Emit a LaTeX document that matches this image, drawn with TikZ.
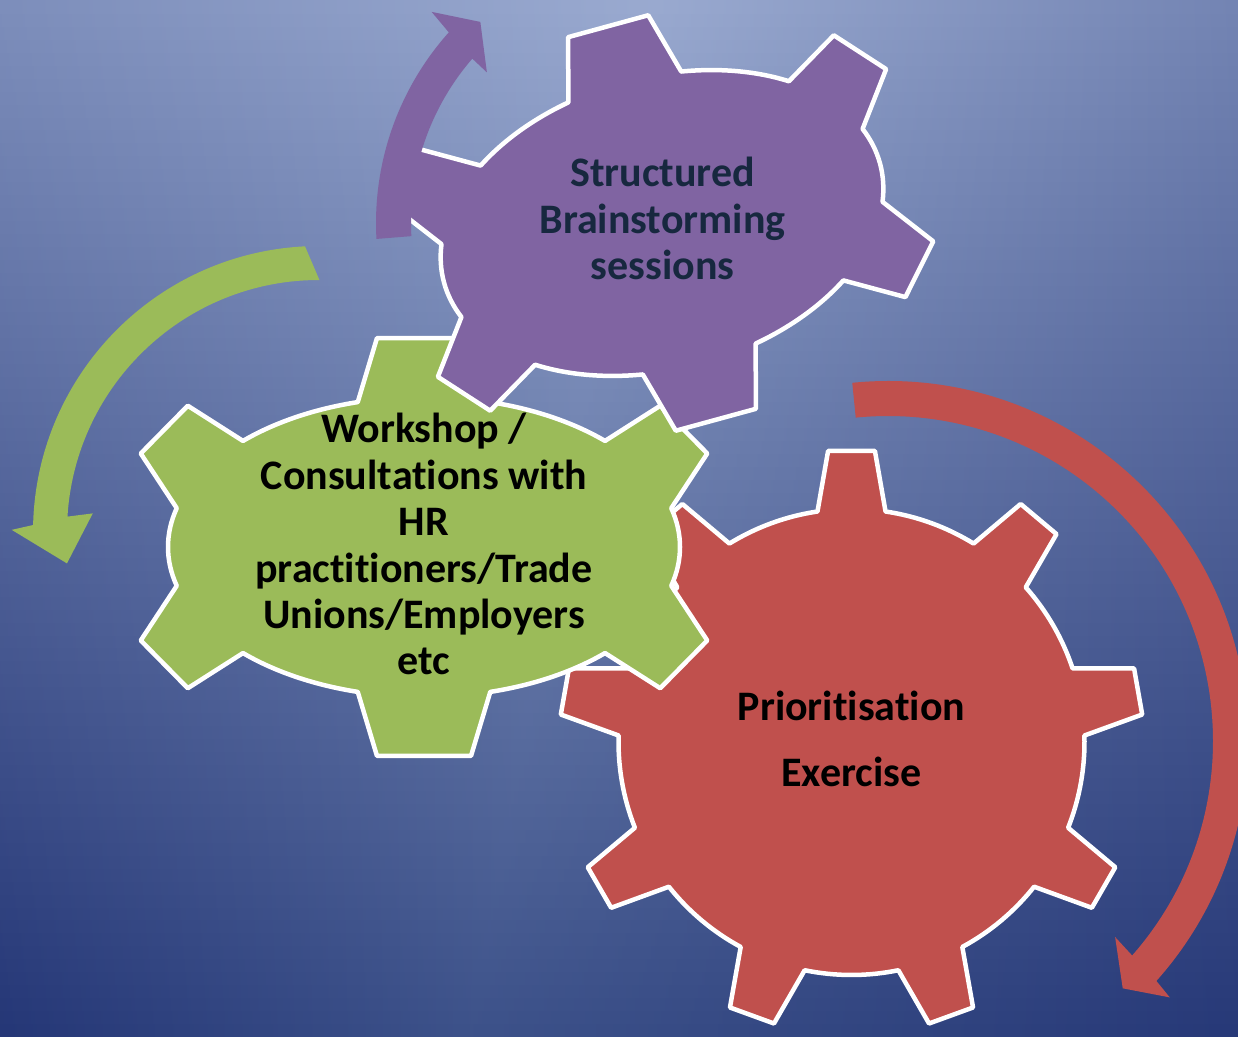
\documentclass[tikz,border=0pt]{standalone}
\usepackage{fontspec}
\setmainfont{Carlito}[Ligatures={NoCommon,NoContextual}]
\definecolor{gPurple}{HTML}{8064A2}
\definecolor{gGreen}{HTML}{9BBB59}
\definecolor{gRed}{HTML}{C0504D}
\definecolor{bgTL}{HTML}{7D8EBB}
\definecolor{bgTC}{HTML}{9AAAD0}
\definecolor{bgTR}{HTML}{7384B3}
\definecolor{bgBL}{HTML}{243676}
\definecolor{bgBC}{HTML}{3C5189}
\definecolor{bgBR}{HTML}{263877}
\definecolor{txtNavy}{HTML}{17283F}
\tikzset{
  gearline/.style={draw=white, line width=4.5pt, line join=round},
  gtext/.style={font=\bfseries\fontsize{42}{46.7}\selectfont, inner sep=0pt, anchor=base},
}
% six-tooth gear on an elliptical body: #1 prefix, #2 x radius, #3 y radius, #4 tooth height, #5 fill
\newcommand\GearSix[5]{%
  \foreach \t [count=\k] in {90,150,210,270,330,390} {
    \pgfmathsetmacro\gAx{#2*cos(\t-15)}
    \pgfmathsetmacro\gAy{#3*sin(\t-15)}
    \pgfmathsetmacro\gBx{#2*cos(\t+15)}
    \pgfmathsetmacro\gBy{#3*sin(\t+15)}
    \pgfmathsetmacro\gMx{(\gAx+\gBx)/2}
    \pgfmathsetmacro\gMy{(\gAy+\gBy)/2}
    \pgfmathsetmacro\gNx{cos(\t)*#3/100}
    \pgfmathsetmacro\gNy{sin(\t)*#2/100}
    \pgfmathsetmacro\gNl{sqrt(\gNx*\gNx+\gNy*\gNy)}
    \pgfmathsetmacro\gOx{\gMx+#4*\gNx/\gNl}
    \pgfmathsetmacro\gOy{\gMy+#4*\gNy/\gNl}
    \coordinate (#1\k a) at (\gAx,\gAy);
    \coordinate (#1\k b) at (\gBx,\gBy);
    \coordinate (#1\k c) at ({\gOx+0.71*(\gAx-\gMx)},{\gOy+0.71*(\gAy-\gMy)});
    \coordinate (#1\k d) at ({\gOx+0.71*(\gBx-\gMx)},{\gOy+0.71*(\gBy-\gMy)});
  }
  \draw[gearline, fill=#5] (#11a)
    \foreach \k/\t in {1/90,2/150,3/210,4/270,5/330,6/390} {
      -- (#1\k c) -- (#1\k d) -- (#1\k b)
      arc[start angle=\t+15, end angle=\t+45, x radius=#2, y radius=#3]
    } -- cycle;
}
\begin{document}
\begin{tikzpicture}[x=1pt,y=1pt]
\useasboundingbox (0,0) rectangle (1238,1036);
\clip (0,0) rectangle (1238,1036);
% background: vertical blend, lightest column drifting from x=470 (bottom) to x=650 (top)
\foreach \i in {0,...,79} {
  \pgfmathsetmacro\yA{\i*12.95-0.5}
  \pgfmathsetmacro\yB{\yA+14}
  \pgfmathsetmacro\pc{(\i+0.5)/0.8}
  \pgfmathsetmacro\xm{470+180*(\i+0.5)/80}
  \shade[left color=bgTL!\pc!bgBL, right color=bgTC!\pc!bgBC] (-2,\yA) rectangle (\xm,\yB);
  \shade[left color=bgTC!\pc!bgBC, right color=bgTR!\pc!bgBR] (\xm-0.5,\yA) rectangle (1240,\yB);
}

% red nine-tooth gear
\begin{scope}[shift={(851.5,294)}]
\draw[gearline, fill=gRed] (81.6:233)
  \foreach \t in {90,130,...,410} {
    -- ({\t-4.6}:292) -- ({\t+4.6}:292) -- ({\t+8.4}:233)
    arc[start angle=\t+8.4, end angle=\t+31.6, radius=233]
  } -- cycle;
\end{scope}

% green six-tooth gear
\begin{scope}[shift={(424,489)}]
\GearSix{G}{256}{150}{64}{gGreen}
\end{scope}

% purple six-tooth gear
\begin{scope}[shift={(662,813)}, rotate=15.3]
\GearSix{P}{226}{146}{63}{gPurple}
\end{scope}

% purple circular arrow
\begin{scope}[shift={(662,813)}]
\fill[gPurple] (183.2:286) arc[start angle=183.2, end angle=138.2, radius=286]
  -- (137.5:312.5) -- (132.1:271) -- (139.3:231) -- (139.1:251)
  arc[start angle=139.1, end angle=183, radius=251] -- cycle;
\end{scope}

% green circular arrow
\begin{scope}[shift={(319,504)}]
\fill[gGreen] (92.8:286) arc[start angle=92.8, end angle=178.6, radius=286]
  -- (179.6:307.3) -- (187.1:254) -- (175.3:227) -- (176.5:252)
  arc[start angle=176.5, end angle=89.9, radius=252] -- cycle;
\end{scope}

% red circular arrow
\begin{scope}[shift={(888,295)}]
\fill[gRed] (95.7:360) arc[start angle=95.7, end angle=-41.8, radius=360]
  -- (-42.3:381) -- (-46.5:341) -- (-40.8:300) -- (-41.3:325)
  arc[start angle=-41.3, end angle=95.7, radius=325] -- cycle;
\end{scope}

% texts
\node[gtext, text=txtNavy] (sb1) at (662.5,849.3) {Structured};
\node[gtext, text=txtNavy] (sb2) at (662.5,802.7) {Brainstorming};
\node[gtext, text=txtNavy] (sb3) at (662.5,756) {sessions};

\node[gtext] (ws1) at (424,593.3) {Workshop /};
\node[gtext] (ws2) at (424,546.7) {Consultations with};
\node[gtext] (ws3) at (424,500) {HR};
\node[gtext] (ws4) at (424,453.3) {practitioners/Trade};
\node[gtext] (ws5) at (424,407.7) {Unions/Employers};
\node[gtext] (ws6) at (424,361) {etc};

\node[gtext] (pe1) at (851.5,315) {Prioritisation};
\node[gtext] (pe2) at (851.5,250) {Exercise};
\end{tikzpicture}
\end{document}
